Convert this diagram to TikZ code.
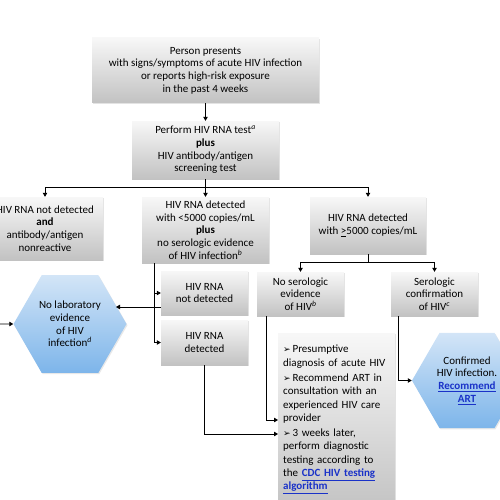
\documentclass[tikz,border=0pt]{standalone}
\usepackage{fontspec}
\setmainfont{Carlito}
\newfontfamily\dejavu{DejaVu Sans}
\usetikzlibrary{arrows.meta,shapes.geometric,shadows}
\definecolor{linkblue}{HTML}{1A32C8}
\definecolor{hextop}{HTML}{D3E5F7}
\definecolor{hexbot}{HTML}{7DB5EA}
\newcommand{\lnk}[1]{\textcolor{linkblue}{\bfseries\underline{#1}}}
\newcommand{\sups}[1]{\textsuperscript{\itshape #1}}
\newcommand{\bul}{{\dejavu\fontsize{9}{9}\selectfont ➢}\,}
\begin{document}
\begin{tikzpicture}[x=1pt,y=-1pt,font=\fontsize{11}{12.7}\selectfont,
  box/.style={shade,top color=black!3,bottom color=black!24,
    drop shadow={opacity=0.22,shadow xshift=1.2pt,shadow yshift=-1.2pt},
    align=center,inner sep=1pt},
  hexa/.style={regular polygon,regular polygon sides=6,shade,
    top color=hextop,bottom color=hexbot,inner sep=0pt,align=center,
    drop shadow={opacity=0.18,shadow xshift=1pt,shadow yshift=-1.2pt}},
  arr/.style={-{Triangle[width=4.5pt,length=4pt]},line width=0.8pt},
  ln/.style={line width=0.8pt}]
\useasboundingbox (0,0) rectangle (500,500);

\node[box,minimum width=227pt,minimum height=65pt] (top) at (205.5,70.5)
  {Person presents\\with signs/symptoms of acute HIV infection\\or reports high-risk exposure\\in the past 4 weeks};
\node[box,minimum width=147pt,minimum height=58pt] (b2) at (205.5,150)
  {Perform HIV RNA test\sups{a}\\\textbf{plus}\\HIV antibody/antigen\\screening test};
\node[box,minimum width=116pt,minimum height=63pt] (l1) at (45,228.5)
  {HIV RNA not detected\\\textbf{and}\\antibody/antigen\\nonreactive};
\node[box,minimum width=127pt,minimum height=66pt] (m1) at (205.5,230)
  {HIV RNA detected\\with {<}5000 copies/mL\\\textbf{plus}\\no serologic evidence\\of HIV infection\sups{b}};
\node[box,minimum width=116pt,minimum height=57pt] (r1) at (368,225.5)
  {HIV RNA detected\\with \underline{>}5000 copies/mL};
\node[box,minimum width=87pt,minimum height=44pt] (nd) at (204.5,293)
  {HIV RNA\\not detected};
\node[box,minimum width=87pt,minimum height=45pt] (det) at (204.5,342.5)
  {HIV RNA\\detected};
\node[box,minimum width=87pt,minimum height=44pt] (nse) at (300.5,294)
  {No serologic\\evidence\\of HIV\sups{b}};
\node[box,minimum width=87pt,minimum height=44pt] (sc) at (434.5,294)
  {Serologic\\confirmation\\of HIV\sups{c}};
\node[box,anchor=north west,minimum width=117pt,minimum height=180pt] (pres) at (278,333) {};
\node[anchor=north west,text width=107pt,inner xsep=5pt,inner ysep=0pt,align=left,
  font=\fontsize{11}{13.3}\selectfont] (prestext) at ([yshift=-12pt]pres.north west)
  {\bul Presumptive\\diagnosis of acute HIV\\[2pt]
   \bul Recommend ART in\\consultation with an\\experienced HIV care\\provider\\[2pt]
   \bul 3 weeks later,\\perform diagnostic\\testing according to\\the \lnk{CDC HIV testing}\\\lnk{algorithm}};
\node[hexa,minimum size=113pt] (hexL) at (70,324)
  {No laboratory\\evidence\\of HIV\\infection\sups{d}};
\node[hexa,minimum size=110pt] (hexR) at (467,380.5)
  {Confirmed\\HIV infection.\\\lnk{Recommend}\\\lnk{ART}};

% connectors
\draw[arr] (top) -- (b2);
\draw[ln] (b2.south) -- ++(0,8) coordinate (s1);
\draw[arr] (s1) -| (l1.north);
\draw[arr] (s1) -| (r1.north);
\draw[arr] (s1) -- (m1.north);

\coordinate (mv) at ([xshift=13pt]m1.south west);
\draw[arr] (mv) |- (det.west);
\draw[arr] (mv |- nd.west) -- (nd.west);
\draw[arr] ([yshift=-14pt]nd.west) -- ([shift={(46,-17)}]hexL.center);
\coordinate (inL) at (-3,324);
\draw[arr] (inL) -- (hexL.west);

\draw[ln] (r1.south) -- ++(0,8) coordinate (s2);
\draw[arr] (s2) -| (nse.north);
\draw[arr] (s2) -| (sc.north);

\draw[arr] ([xshift=10pt]nse.south west) |- ([yshift=-87pt]pres.north west);
\draw[arr] (det.south) |- ([yshift=-101pt]pres.north west);
\draw[arr] ([xshift=8pt]sc.south west) |- (hexR.west);
\end{tikzpicture}
\end{document}
